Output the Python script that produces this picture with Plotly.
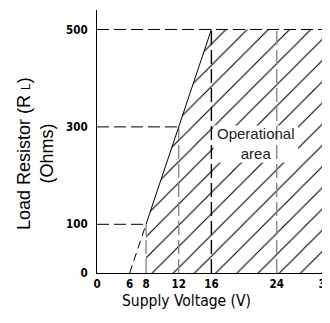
import plotly.graph_objects as go

# ---- data ----
boundary_v = [6, 8, 16]          # supply voltage along the limit line
boundary_r = [0, 100, 500]       # load resistor along the limit line
v_max = 30
r_max = 500
x_tick_vals = [2, 6, 8, 12, 16, 24, 30]   # axis origin drawn at 2 (broken axis labelled 0)
x_tick_text = ["0", "6", "8", "12", "16", "24", "30"]
y_tick_vals = [0, 100, 300, 500]
y_tick_text = ["0", "100", "300", "500"]
label_v, label_r = 21.5, 265

COND = "DejaVu Sans Condensed, Liberation Sans Narrow, Arial Narrow, Liberation Sans"
TICK_FONT = dict(family=COND, size=11.5, color="black", weight="bold")
DASH = "12px,5px"

fig = go.Figure()

# hatched operational area
poly_x = [boundary_v[1], boundary_v[1], boundary_v[2], v_max, v_max, boundary_v[1]]
poly_y = [0, boundary_r[1], boundary_r[2], r_max, 0, 0]
fig.add_trace(go.Scatter(x=poly_x, y=poly_y, mode="lines", fill="toself",
                         line=dict(width=0), fillcolor="white",
                         fillpattern=dict(shape="/", size=15, solidity=0.075,
                                          fgcolor="black", bgcolor="white", fillmode="replace"),
                         hoverinfo="skip", showlegend=False))

# white box behind the label
bx0, bx1, by0, by1 = 16.25, 26.6, 227, 303
fig.add_trace(go.Scatter(x=[bx0, bx1, bx1, bx0, bx0], y=[by0, by0, by1, by1, by0],
                         mode="lines", fill="toself", fillcolor="white", line=dict(width=0),
                         hoverinfo="skip", showlegend=False))

x0 = x_tick_vals[0]
# horizontal guide lines
for r, xe in [(boundary_r[1], boundary_v[1]), (300, 12), (r_max, v_max)]:
    fig.add_trace(go.Scatter(x=[x0, xe], y=[r, r], mode="lines",
                             line=dict(color="black", width=1, dash=DASH),
                             hoverinfo="skip", showlegend=False))

# vertical guide lines
for v, top, col in [(8, 100, "#8a8a8a"), (12, 300, "#8a8a8a"), (16, 500, "black"),
                    (24, 500, "#8a8a8a"), (30, 500, "#8a8a8a")]:
    fig.add_trace(go.Scatter(x=[v, v], y=[0, top], mode="lines",
                             line=dict(color=col, width=1.4, dash="14px,5px"),
                             hoverinfo="skip", showlegend=False))

# limit line: dashed below 8 V, solid above
fig.add_trace(go.Scatter(x=boundary_v[:2], y=boundary_r[:2], mode="lines",
                         line=dict(color="black", width=1, dash="8px,5px"),
                         hoverinfo="skip", showlegend=False))
fig.add_trace(go.Scatter(x=boundary_v[1:], y=boundary_r[1:], mode="lines",
                         line=dict(color="black", width=1),
                         hoverinfo="skip", showlegend=False))

fig.add_annotation(x=label_v, y=label_r, text="Operational<br>area", showarrow=False,
                   font=dict(family="Liberation Sans, Arial", size=15, color="#222"),
                   xanchor="center", yanchor="middle")

fig.add_annotation(xref="paper", yref="paper", x=-0.27, y=0.456,
                   text="Load Resistor (R <span style='font-size:12px'>L</span>)<br>(Ohms)",
                   textangle=-90, showarrow=False, xanchor="center", yanchor="middle",
                   font=dict(family="Liberation Sans, Arial", size=18, color="black"))

fig.add_annotation(xref="paper", yref="paper", x=0.391, y=-0.105,
                   text="Supply Voltage (V)", showarrow=False,
                   xanchor="center", yanchor="middle",
                   font=dict(family=COND, size=15.5, color="black"))

fig.update_xaxes(range=[x0, v_max + 0.15], tickvals=x_tick_vals, ticktext=x_tick_text,
                 showline=True, linecolor="black", linewidth=1, mirror=False,
                 showgrid=False, zeroline=False, ticks="", tickfont=TICK_FONT,
                 ticklabeloverflow="allow", automargin=False)
fig.update_yaxes(range=[0, 540], tickvals=y_tick_vals, ticktext=y_tick_text,
                 showline=True, linecolor="black", linewidth=1, mirror=False,
                 showgrid=False, zeroline=False, ticks="", tickfont=TICK_FONT,
                 ticklabelstandoff=6, automargin=False)

# the page body has an 8px margin, so the figure is laid out 8px smaller/offset
fig.update_layout(width=322, height=315, margin=dict(l=89, r=3, t=2, b=50),
                  plot_bgcolor="white", paper_bgcolor="white", showlegend=False)

fig.write_html("out.html")
